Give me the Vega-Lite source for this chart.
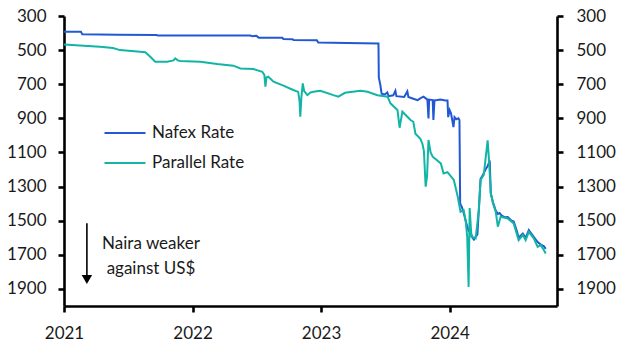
{
  "$schema": "https://vega.github.io/schema/vega-lite/v6.json",
  "width": 493,
  "height": 290,
  "autosize": {"type": "none"},
  "padding": {"left": 64, "top": 16, "right": 75, "bottom": 51},
  "config": {
    "view": {"stroke": null},
    "font": "Lato",
    "axis": {
      "grid": false,
      "domainColor": "#000000",
      "domainWidth": 2.6,
      "tickColor": "#000000",
      "tickWidth": 2.6,
      "tickSize": 6,
      "labelFont": "Lato",
      "labelFontSize": 17,
      "labelColor": "#1a1a1a",
      "title": null
    },
    "legend": {
      "labelFont": "Lato",
      "labelFontSize": 17,
      "labelColor": "#1a1a1a"
    }
  },
  "datasets": {
    "rates": [
      {"date": "2021-01-01", "series": "Nafex Rate", "rate": 392},
      {"date": "2021-02-18", "series": "Nafex Rate", "rate": 393},
      {"date": "2021-02-22", "series": "Nafex Rate", "rate": 407},
      {"date": "2021-06-01", "series": "Nafex Rate", "rate": 410},
      {"date": "2021-09-20", "series": "Nafex Rate", "rate": 411},
      {"date": "2021-09-25", "series": "Nafex Rate", "rate": 414},
      {"date": "2022-06-14", "series": "Nafex Rate", "rate": 415},
      {"date": "2022-06-20", "series": "Nafex Rate", "rate": 418},
      {"date": "2022-07-01", "series": "Nafex Rate", "rate": 416},
      {"date": "2022-07-08", "series": "Nafex Rate", "rate": 427},
      {"date": "2022-09-13", "series": "Nafex Rate", "rate": 428},
      {"date": "2022-09-16", "series": "Nafex Rate", "rate": 435},
      {"date": "2022-10-12", "series": "Nafex Rate", "rate": 436},
      {"date": "2022-10-15", "series": "Nafex Rate", "rate": 441},
      {"date": "2022-12-20", "series": "Nafex Rate", "rate": 442},
      {"date": "2022-12-24", "series": "Nafex Rate", "rate": 456},
      {"date": "2023-03-15", "series": "Nafex Rate", "rate": 459},
      {"date": "2023-06-13", "series": "Nafex Rate", "rate": 461},
      {"date": "2023-06-14", "series": "Nafex Rate", "rate": 660},
      {"date": "2023-06-18", "series": "Nafex Rate", "rate": 700},
      {"date": "2023-06-22", "series": "Nafex Rate", "rate": 755},
      {"date": "2023-07-01", "series": "Nafex Rate", "rate": 760},
      {"date": "2023-07-08", "series": "Nafex Rate", "rate": 748},
      {"date": "2023-07-12", "series": "Nafex Rate", "rate": 770},
      {"date": "2023-07-25", "series": "Nafex Rate", "rate": 765},
      {"date": "2023-07-31", "series": "Nafex Rate", "rate": 738},
      {"date": "2023-08-03", "series": "Nafex Rate", "rate": 770},
      {"date": "2023-08-25", "series": "Nafex Rate", "rate": 775},
      {"date": "2023-09-03", "series": "Nafex Rate", "rate": 742},
      {"date": "2023-09-06", "series": "Nafex Rate", "rate": 775},
      {"date": "2023-09-20", "series": "Nafex Rate", "rate": 785},
      {"date": "2023-10-02", "series": "Nafex Rate", "rate": 793},
      {"date": "2023-10-12", "series": "Nafex Rate", "rate": 780},
      {"date": "2023-10-19", "series": "Nafex Rate", "rate": 773},
      {"date": "2023-10-30", "series": "Nafex Rate", "rate": 790},
      {"date": "2023-11-02", "series": "Nafex Rate", "rate": 900},
      {"date": "2023-11-04", "series": "Nafex Rate", "rate": 790},
      {"date": "2023-11-14", "series": "Nafex Rate", "rate": 793},
      {"date": "2023-11-16", "series": "Nafex Rate", "rate": 910},
      {"date": "2023-11-19", "series": "Nafex Rate", "rate": 795},
      {"date": "2023-11-27", "series": "Nafex Rate", "rate": 793},
      {"date": "2023-12-06", "series": "Nafex Rate", "rate": 790},
      {"date": "2023-12-20", "series": "Nafex Rate", "rate": 795},
      {"date": "2023-12-26", "series": "Nafex Rate", "rate": 795},
      {"date": "2023-12-28", "series": "Nafex Rate", "rate": 893},
      {"date": "2024-01-01", "series": "Nafex Rate", "rate": 851},
      {"date": "2024-01-05", "series": "Nafex Rate", "rate": 870},
      {"date": "2024-01-12", "series": "Nafex Rate", "rate": 951},
      {"date": "2024-01-15", "series": "Nafex Rate", "rate": 893},
      {"date": "2024-01-20", "series": "Nafex Rate", "rate": 905},
      {"date": "2024-01-26", "series": "Nafex Rate", "rate": 900},
      {"date": "2024-01-29", "series": "Nafex Rate", "rate": 910},
      {"date": "2024-01-31", "series": "Nafex Rate", "rate": 1400},
      {"date": "2024-02-05", "series": "Nafex Rate", "rate": 1420},
      {"date": "2024-02-12", "series": "Nafex Rate", "rate": 1470},
      {"date": "2024-02-18", "series": "Nafex Rate", "rate": 1520},
      {"date": "2024-02-24", "series": "Nafex Rate", "rate": 1560},
      {"date": "2024-03-01", "series": "Nafex Rate", "rate": 1570},
      {"date": "2024-03-06", "series": "Nafex Rate", "rate": 1600},
      {"date": "2024-03-10", "series": "Nafex Rate", "rate": 1610},
      {"date": "2024-03-15", "series": "Nafex Rate", "rate": 1595},
      {"date": "2024-03-20", "series": "Nafex Rate", "rate": 1580},
      {"date": "2024-03-25", "series": "Nafex Rate", "rate": 1400},
      {"date": "2024-03-29", "series": "Nafex Rate", "rate": 1255},
      {"date": "2024-04-05", "series": "Nafex Rate", "rate": 1230},
      {"date": "2024-04-12", "series": "Nafex Rate", "rate": 1200},
      {"date": "2024-04-18", "series": "Nafex Rate", "rate": 1180},
      {"date": "2024-04-24", "series": "Nafex Rate", "rate": 1147},
      {"date": "2024-04-27", "series": "Nafex Rate", "rate": 1340},
      {"date": "2024-05-03", "series": "Nafex Rate", "rate": 1390},
      {"date": "2024-05-11", "series": "Nafex Rate", "rate": 1440},
      {"date": "2024-05-17", "series": "Nafex Rate", "rate": 1460},
      {"date": "2024-05-22", "series": "Nafex Rate", "rate": 1455},
      {"date": "2024-05-28", "series": "Nafex Rate", "rate": 1470},
      {"date": "2024-06-07", "series": "Nafex Rate", "rate": 1480},
      {"date": "2024-06-14", "series": "Nafex Rate", "rate": 1478},
      {"date": "2024-06-25", "series": "Nafex Rate", "rate": 1500},
      {"date": "2024-07-01", "series": "Nafex Rate", "rate": 1505},
      {"date": "2024-07-10", "series": "Nafex Rate", "rate": 1560},
      {"date": "2024-07-15", "series": "Nafex Rate", "rate": 1600},
      {"date": "2024-07-27", "series": "Nafex Rate", "rate": 1575},
      {"date": "2024-08-04", "series": "Nafex Rate", "rate": 1600},
      {"date": "2024-08-13", "series": "Nafex Rate", "rate": 1555},
      {"date": "2024-08-20", "series": "Nafex Rate", "rate": 1575},
      {"date": "2024-08-27", "series": "Nafex Rate", "rate": 1595},
      {"date": "2024-09-07", "series": "Nafex Rate", "rate": 1625},
      {"date": "2024-09-16", "series": "Nafex Rate", "rate": 1640},
      {"date": "2024-09-25", "series": "Nafex Rate", "rate": 1650},
      {"date": "2024-09-30", "series": "Nafex Rate", "rate": 1665},
      {"date": "2021-01-01", "series": "Parallel Rate", "rate": 467},
      {"date": "2021-02-15", "series": "Parallel Rate", "rate": 473},
      {"date": "2021-04-13", "series": "Parallel Rate", "rate": 480},
      {"date": "2021-05-20", "series": "Parallel Rate", "rate": 488},
      {"date": "2021-06-09", "series": "Parallel Rate", "rate": 500},
      {"date": "2021-07-28", "series": "Parallel Rate", "rate": 508},
      {"date": "2021-08-20", "series": "Parallel Rate", "rate": 512},
      {"date": "2021-09-03", "series": "Parallel Rate", "rate": 539},
      {"date": "2021-09-17", "series": "Parallel Rate", "rate": 568},
      {"date": "2021-10-21", "series": "Parallel Rate", "rate": 568},
      {"date": "2021-11-08", "series": "Parallel Rate", "rate": 560},
      {"date": "2021-11-13", "series": "Parallel Rate", "rate": 548},
      {"date": "2021-11-20", "series": "Parallel Rate", "rate": 560},
      {"date": "2021-11-27", "series": "Parallel Rate", "rate": 564},
      {"date": "2022-01-23", "series": "Parallel Rate", "rate": 568},
      {"date": "2022-03-12", "series": "Parallel Rate", "rate": 582},
      {"date": "2022-04-27", "series": "Parallel Rate", "rate": 591},
      {"date": "2022-05-17", "series": "Parallel Rate", "rate": 608},
      {"date": "2022-06-23", "series": "Parallel Rate", "rate": 611},
      {"date": "2022-07-18", "series": "Parallel Rate", "rate": 627},
      {"date": "2022-07-24", "series": "Parallel Rate", "rate": 645},
      {"date": "2022-07-27", "series": "Parallel Rate", "rate": 714},
      {"date": "2022-07-30", "series": "Parallel Rate", "rate": 660},
      {"date": "2022-08-04", "series": "Parallel Rate", "rate": 656},
      {"date": "2022-08-19", "series": "Parallel Rate", "rate": 685},
      {"date": "2022-09-16", "series": "Parallel Rate", "rate": 708},
      {"date": "2022-10-14", "series": "Parallel Rate", "rate": 734},
      {"date": "2022-10-28", "series": "Parallel Rate", "rate": 745},
      {"date": "2022-11-01", "series": "Parallel Rate", "rate": 800},
      {"date": "2022-11-03", "series": "Parallel Rate", "rate": 890},
      {"date": "2022-11-06", "series": "Parallel Rate", "rate": 780},
      {"date": "2022-11-10", "series": "Parallel Rate", "rate": 695},
      {"date": "2022-11-14", "series": "Parallel Rate", "rate": 740},
      {"date": "2022-11-23", "series": "Parallel Rate", "rate": 764},
      {"date": "2022-12-02", "series": "Parallel Rate", "rate": 748},
      {"date": "2022-12-10", "series": "Parallel Rate", "rate": 744},
      {"date": "2022-12-30", "series": "Parallel Rate", "rate": 738},
      {"date": "2023-02-05", "series": "Parallel Rate", "rate": 764},
      {"date": "2023-02-19", "series": "Parallel Rate", "rate": 773},
      {"date": "2023-03-10", "series": "Parallel Rate", "rate": 750},
      {"date": "2023-04-23", "series": "Parallel Rate", "rate": 738},
      {"date": "2023-05-13", "series": "Parallel Rate", "rate": 744},
      {"date": "2023-06-10", "series": "Parallel Rate", "rate": 764},
      {"date": "2023-07-09", "series": "Parallel Rate", "rate": 773},
      {"date": "2023-07-17", "series": "Parallel Rate", "rate": 812},
      {"date": "2023-08-06", "series": "Parallel Rate", "rate": 851},
      {"date": "2023-08-12", "series": "Parallel Rate", "rate": 955},
      {"date": "2023-08-20", "series": "Parallel Rate", "rate": 861},
      {"date": "2023-09-12", "series": "Parallel Rate", "rate": 910},
      {"date": "2023-09-20", "series": "Parallel Rate", "rate": 920},
      {"date": "2023-09-26", "series": "Parallel Rate", "rate": 990},
      {"date": "2023-10-10", "series": "Parallel Rate", "rate": 1020},
      {"date": "2023-10-16", "series": "Parallel Rate", "rate": 1050},
      {"date": "2023-10-20", "series": "Parallel Rate", "rate": 1090},
      {"date": "2023-10-25", "series": "Parallel Rate", "rate": 1300},
      {"date": "2023-10-29", "series": "Parallel Rate", "rate": 1240},
      {"date": "2023-11-02", "series": "Parallel Rate", "rate": 1027},
      {"date": "2023-11-08", "series": "Parallel Rate", "rate": 1100},
      {"date": "2023-11-14", "series": "Parallel Rate", "rate": 1125},
      {"date": "2023-12-07", "series": "Parallel Rate", "rate": 1164},
      {"date": "2023-12-15", "series": "Parallel Rate", "rate": 1223},
      {"date": "2023-12-26", "series": "Parallel Rate", "rate": 1215},
      {"date": "2024-01-13", "series": "Parallel Rate", "rate": 1261},
      {"date": "2024-01-24", "series": "Parallel Rate", "rate": 1358},
      {"date": "2024-02-01", "series": "Parallel Rate", "rate": 1447},
      {"date": "2024-02-10", "series": "Parallel Rate", "rate": 1438},
      {"date": "2024-02-16", "series": "Parallel Rate", "rate": 1506},
      {"date": "2024-02-20", "series": "Parallel Rate", "rate": 1594},
      {"date": "2024-02-24", "series": "Parallel Rate", "rate": 1888},
      {"date": "2024-02-27", "series": "Parallel Rate", "rate": 1426},
      {"date": "2024-03-03", "series": "Parallel Rate", "rate": 1594},
      {"date": "2024-03-15", "series": "Parallel Rate", "rate": 1603},
      {"date": "2024-03-24", "series": "Parallel Rate", "rate": 1438},
      {"date": "2024-03-29", "series": "Parallel Rate", "rate": 1261},
      {"date": "2024-04-07", "series": "Parallel Rate", "rate": 1232},
      {"date": "2024-04-18", "series": "Parallel Rate", "rate": 1029},
      {"date": "2024-04-22", "series": "Parallel Rate", "rate": 1150},
      {"date": "2024-04-27", "series": "Parallel Rate", "rate": 1338},
      {"date": "2024-05-03", "series": "Parallel Rate", "rate": 1397},
      {"date": "2024-05-11", "series": "Parallel Rate", "rate": 1447},
      {"date": "2024-05-17", "series": "Parallel Rate", "rate": 1535},
      {"date": "2024-05-25", "series": "Parallel Rate", "rate": 1477},
      {"date": "2024-06-14", "series": "Parallel Rate", "rate": 1487},
      {"date": "2024-07-01", "series": "Parallel Rate", "rate": 1516},
      {"date": "2024-07-15", "series": "Parallel Rate", "rate": 1614},
      {"date": "2024-07-27", "series": "Parallel Rate", "rate": 1584},
      {"date": "2024-08-04", "series": "Parallel Rate", "rate": 1614},
      {"date": "2024-08-13", "series": "Parallel Rate", "rate": 1565},
      {"date": "2024-08-27", "series": "Parallel Rate", "rate": 1603},
      {"date": "2024-09-07", "series": "Parallel Rate", "rate": 1653},
      {"date": "2024-09-16", "series": "Parallel Rate", "rate": 1643},
      {"date": "2024-09-25", "series": "Parallel Rate", "rate": 1673},
      {"date": "2024-09-30", "series": "Parallel Rate", "rate": 1692}
    ],
    "notes": [
      {"date": "2021-09-05", "rate": 1636, "label": "Naira weaker"},
      {"date": "2021-09-05", "rate": 1783, "label": "against US$"}
    ],
    "arrow": [
      {"date": "2021-03-07", "rate": 1515, "rate_end": 1825, "tip": 1845}
    ]
  },
  "layer": [
    {
      "data": {"name": "rates"},
      "mark": {"type": "line", "strokeWidth": 2, "interpolate": "linear"},
      "encoding": {
        "x": {
          "field": "date",
          "type": "temporal",
          "scale": {"domain": ["2021-01-01", "2024-11-01"]},
          "axis": {
            "format": "%Y",
            "tickCount": {"interval": "year", "step": 1},
            "labelPadding": 13,
            "labelFlush": false
          }
        },
        "y": {
          "field": "rate",
          "type": "quantitative",
          "scale": {"domain": [300, 2000], "reverse": true, "nice": false, "zero": false},
          "axis": {
            "orient": "left",
            "values": [300, 500, 700, 900, 1100, 1300, 1500, 1700, 1900],
            "format": "d",
            "labelPadding": 12
          }
        },
        "color": {
          "field": "series",
          "type": "nominal",
          "scale": {"domain": ["Nafex Rate", "Parallel Rate"], "range": ["#2158D3", "#12B5A5"]},
          "legend": {
            "title": null,
            "orient": "none",
            "legendX": 39,
            "legendY": 95,
            "padding": 0,
            "symbolType": "stroke",
            "symbolSize": 1681,
            "symbolStrokeWidth": 2.2,
            "labelOffset": 5,
            "rowPadding": 0
          }
        }
      }
    },
    {
      "data": {"name": "arrow"},
      "mark": {"type": "rule", "color": "#000000", "strokeWidth": 1.6},
      "encoding": {
        "x": {"field": "date", "type": "temporal"},
        "y": {"field": "rate", "type": "quantitative", "axis": null},
        "y2": {"field": "rate_end"}
      }
    },
    {
      "data": {"name": "arrow"},
      "mark": {"type": "point", "shape": "triangle-down", "filled": true, "color": "#000000", "opacity": 1, "size": 110},
      "encoding": {
        "x": {"field": "date", "type": "temporal"},
        "y": {"field": "tip", "type": "quantitative", "axis": null}
      }
    },
    {
      "data": {"name": "notes"},
      "mark": {"type": "text", "font": "Lato", "fontSize": 17, "color": "#1a1a1a", "align": "center", "baseline": "middle"},
      "encoding": {
        "x": {"field": "date", "type": "temporal"},
        "y": {
          "field": "rate",
          "type": "quantitative",
          "axis": {
            "orient": "right",
            "values": [300, 500, 700, 900, 1100, 1300, 1500, 1700, 1900],
            "format": "d",
            "labelPadding": 13
          }
        },
        "text": {"field": "label"}
      }
    }
  ],
  "resolve": {"axis": {"y": "independent"}}
}
